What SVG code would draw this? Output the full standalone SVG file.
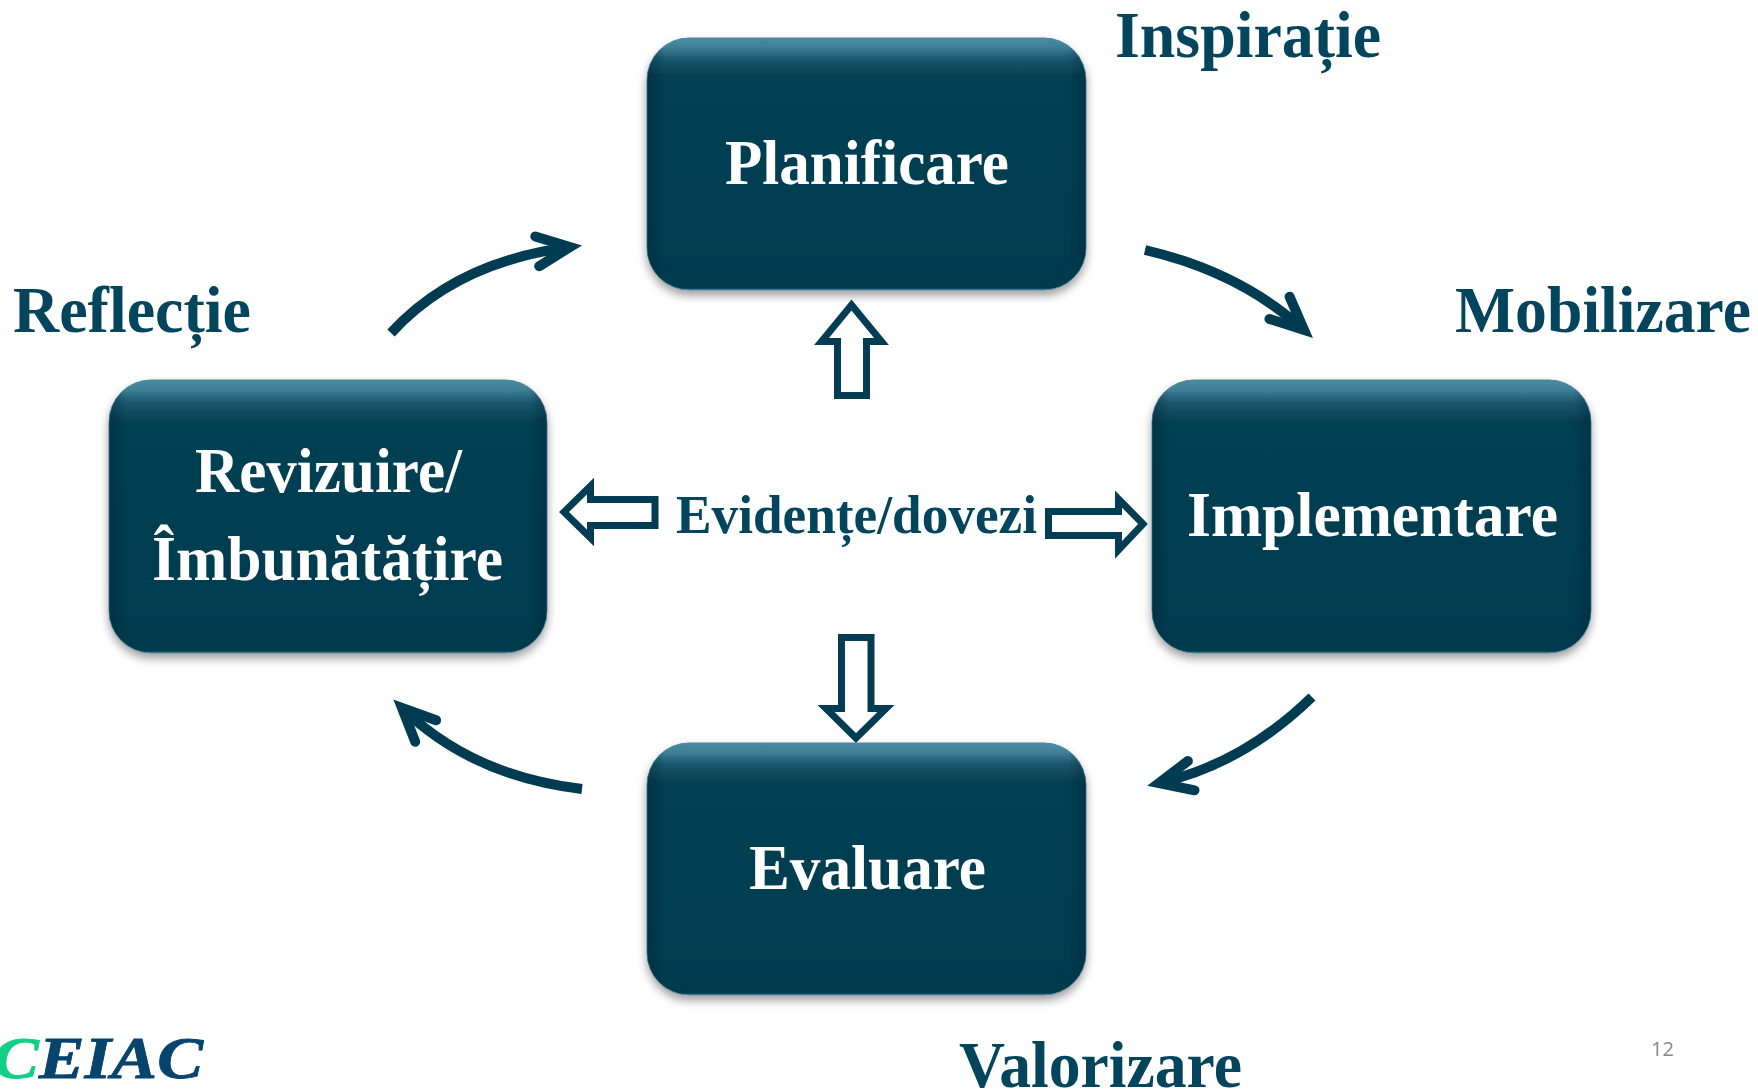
<svg xmlns="http://www.w3.org/2000/svg" width="1758" height="1090" viewBox="0 0 1758 1090">
<style>
text{font-family:"Liberation Serif","Times New Roman",serif;font-weight:bold}
.box{fill:url(#g);stroke:#4f8599;stroke-width:1;filter:url(#s)}
.edge{fill:url(#e)}
.nt{fill:#fff;font-size:63px}
.lb{fill:#03455c;font-size:65px}
.cv{fill:none;stroke:#003c51;stroke-width:10;marker-end:url(#h)}
.ba{fill:#fff;stroke:#023d53;stroke-width:7;stroke-linejoin:miter;stroke-miterlimit:6}
</style>
<defs>
<linearGradient id="g" x1="0" y1="0" x2="0" y2="1">
<stop offset="0" stop-color="#4c8ca3"/><stop offset="0.035" stop-color="#3f8097"/><stop offset="0.085" stop-color="#1a566b"/><stop offset="0.15" stop-color="#053f52"/><stop offset="0.75" stop-color="#043e51"/><stop offset="0.93" stop-color="#003a4e"/><stop offset="0.992" stop-color="#013a4e"/><stop offset="1" stop-color="#35718a"/>
</linearGradient>
<linearGradient id="e" x1="0" y1="0" x2="1" y2="0">
<stop offset="0" stop-color="#00263a" stop-opacity="0.45"/><stop offset="0.04" stop-color="#00263a" stop-opacity="0"/><stop offset="0.96" stop-color="#00263a" stop-opacity="0"/><stop offset="1" stop-color="#00263a" stop-opacity="0.45"/>
</linearGradient>
<filter id="s" x="-5%" y="-5%" width="110%" height="115%"><feDropShadow dx="0" dy="5" stdDeviation="5" flood-color="#000" flood-opacity="0.38"/></filter>
<marker id="h" markerUnits="userSpaceOnUse" markerWidth="70" markerHeight="70" refX="50" refY="35" orient="auto"><path d="M17 20 L50 35 L17 50" fill="none" stroke="#003c51" stroke-width="10" stroke-miterlimit="6" stroke-linecap="round"/></marker>
</defs>
<rect width="1758" height="1090" fill="#fff"/>
<g id="connectors">
<path class="cv" d="M391 333 Q456 262 570 247"/>
<path class="cv" d="M1145 250 Q1240 272 1304 330"/>
<path class="cv" d="M1312 697 Q1243 764 1159 783"/>
<path class="cv" d="M582 789 Q472 776 402 708"/>
<polygon class="ba" points="851.500,305 881.500,341.500 866.500,341.500 866.500,395.500 837.500,395.500 837.500,341.500 821.500,341.500"/>
<polygon class="ba" points="564,512 590.500,486 590.500,499.500 655,499.500 655,525.500 590.500,525.500 590.500,538"/>
<polygon class="ba" points="1143,524 1118.500,499 1118.500,511.500 1048.500,511.500 1048.500,535.500 1118.500,535.500 1118.500,550"/>
<polygon class="ba" points="856,738 886,708.500 871,708.500 871,637.500 841.500,637.500 841.500,708.500 826,708.500"/>
</g>
<g id="node-planificare"><rect class="box" x="647" y="38" width="439" height="252" rx="42"/><rect class="edge" x="647" y="38" width="439" height="252" rx="42"/><text class="nt" x="725" y="184" textLength="284" lengthAdjust="spacingAndGlyphs">Planificare</text></g>
<g id="node-implementare"><rect class="box" x="1152" y="380" width="439" height="273" rx="42"/><rect class="edge" x="1152" y="380" width="439" height="273" rx="42"/><text class="nt" x="1187" y="536" textLength="371" lengthAdjust="spacingAndGlyphs">Implementare</text></g>
<g id="node-evaluare"><rect class="box" x="647" y="743" width="439" height="252" rx="42"/><rect class="edge" x="647" y="743" width="439" height="252" rx="42"/><text class="nt" x="749" y="889" textLength="237" lengthAdjust="spacingAndGlyphs">Evaluare</text></g>
<g id="node-revizuire"><rect class="box" x="109" y="380" width="438" height="273" rx="42"/><rect class="edge" x="109" y="380" width="438" height="273" rx="42"/><text class="nt" x="195" y="492" textLength="267" lengthAdjust="spacingAndGlyphs">Revizuire/</text><text class="nt" x="152" y="580" textLength="351" lengthAdjust="spacingAndGlyphs">Îmbunătățire</text></g>
<g id="labels">
<text class="lb" x="1115" y="57" textLength="266" lengthAdjust="spacingAndGlyphs">Inspirație</text>
<text class="lb" x="13" y="332" textLength="238" lengthAdjust="spacingAndGlyphs">Reflecție</text>
<text class="lb" x="1455" y="332" textLength="296" lengthAdjust="spacingAndGlyphs">Mobilizare</text>
<text class="lb" x="959" y="1087" textLength="283" lengthAdjust="spacingAndGlyphs">Valorizare</text>
<text class="lb" style="font-size:54px" x="676" y="533" textLength="361" lengthAdjust="spacingAndGlyphs">Evidențe/dovezi</text>
<text x="1651" y="1056" style="font-family:'Open Sans',sans-serif;font-weight:normal;font-size:20px" fill="#8a8a8a">12</text>
</g>
<g id="logo"><text x="-7" y="1078" style="font-size:60px;font-style:italic" fill="#06446e" stroke="#06446e" stroke-width="0.8" textLength="210" lengthAdjust="spacingAndGlyphs"><tspan fill="#10cf88" stroke="#10cf88">C</tspan>EIAC</text></g>
</svg>
